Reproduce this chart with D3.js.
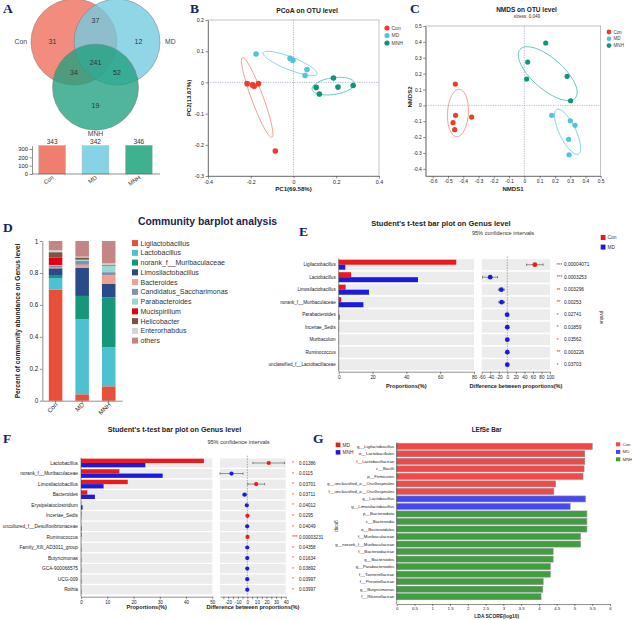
<!DOCTYPE html>
<html><head><meta charset="utf-8">
<script src="https://cdn.jsdelivr.net/npm/d3@7"></script>
<style>body{margin:0;background:#fff}svg{display:block}</style>
</head><body><svg id="c" width="632" height="620"></svg>
<script>
// ---------------- DATA ----------------
const groups = ["Con", "MD", "MNH"];
// Venn regions: Con only, Con∩MD, MD only, all three, Con∩MNH, MD∩MNH, MNH only
const vennRegionCounts = [31, 37, 12, 241, 34, 52, 19];
const otuTotals = [343, 342, 346];
const otuTicks = [0, 100, 200, 300];

// PCoA points [PC1, PC2]
const pcoaCon = [[-0.217, -0.004], [-0.192, -0.008], [-0.184, -0.012], [-0.164, -0.004], [-0.085, -0.22]];
const pcoaMD = [[-0.175, 0.091], [-0.016, 0.077], [-0.003, 0.071], [0.063, 0.041], [0.054, 0.022]];
const pcoaMNH = [[0.106, -0.016], [0.121, -0.037], [0.187, 0.014], [0.208, -0.015], [0.279, -0.01]];
// ellipses: [centerX, centerY, majorEndX, majorEndY, minor/major ratio]
const pcoaEllipses = [[-0.170, -0.048, -0.239, 0.080, 0.137], [-0.016, 0.061, 0.110, 0.027, 0.22], [0.186, -0.012, 0.285, -0.002, 0.39]];
const pcoaXTicks = [-0.4, -0.2, 0, 0.2, 0.4];
const pcoaYTicks = [-0.3, -0.2, -0.1, 0, 0.1, 0.2];

// NMDS points
const nmdsCon = [[-0.452, 0.134], [-0.45, -0.063], [-0.467, -0.109], [-0.456, -0.153], [-0.345, -0.074]];
const nmdsMD = [[0.179, -0.063], [0.301, -0.097], [0.332, -0.126], [0.29, -0.214], [0.293, -0.311]];
const nmdsMNH = [[0.14, 0.393], [0.022, 0.273], [0.015, 0.166], [0.28, 0.183], [0.303, 0.029]];
const nmdsEllipses = [[-0.435, -0.048, -0.426, 0.101, 0.44], [0.283, -0.166, 0.212, -0.025, 0.33], [0.153, 0.2, -0.028, 0.353, 0.42]];
const nmdsXTicks = [-0.6, -0.5, -0.4, -0.3, -0.2, -0.1, 0, 0.1, 0.2, 0.3, 0.4, 0.5];
const nmdsYTicks = [-0.4, -0.3, -0.2, -0.1, 0, 0.1, 0.2, 0.3, 0.4, 0.5];

// Community barplot
const genera = ["Ligilactobacillus", "Lactobacillus", "norank_f__Muribaculaceae", "Limosilactobacillus", "Bacteroides",
  "Candidatus_Saccharimonas", "Parabacteroides", "Mucispirillum", "Helicobacter", "Enterorhabdus", "others"];
const abundCon = [0.695, 0.073, 0.019, 0.042, 0.004, 0.014, 0.003, 0.045, 0.035, 0.012, 0.058];
const abundMD = [0.04, 0.47, 0.146, 0.175, 0.02, 0.025, 0.006, 0.003, 0.012, 0.005, 0.098];
const abundMNH = [0.09, 0.245, 0.313, 0.085, 0.052, 0.02, 0.04, 0.002, 0.005, 0.008, 0.14];
const abundTicks = [0, 0.2, 0.4, 0.6, 0.8, 1];

// t-test Con vs MD
const eGenera = ["Ligilactobacillus", "Lactobacillus", "Limosilactobacillus", "norank_f__Muribaculaceae", "Parabacteroides",
  "Incertae_Sedis", "Muribaculum", "Ruminococcus", "unclassified_f__Lactobacillaceae"];
const eCon = [69.5, 7.3, 4.1, 1.5, 0.1, 0.02, 0.02, 0.01, 0.02];
const eMD = [3.9, 46.9, 17.9, 14.6, 0.5, 0.1, 0.08, 0.05, 0.1];
const eDiff = [64.5, -40, -14, -13.3, -0.4, -0.08, -0.06, -0.04, -0.08];
const eLow = [45, -58, -21, -20, -0.8, -0.15, -0.1, -0.08, -0.15];
const eHigh = [84, -23, -7, -6.5, -0.05, -0.01, -0.02, -0.01, -0.02];
const eStars = ["***", "***", "**", "**", "*", "*", "*", "**", "*"];
const ePvals = ["0.00004071", "0.0003253", "0.003296", "0.00253", "0.02741", "0.01859", "0.03562", "0.003226", "0.03703"];
const ePropTicks = [0, 20, 40, 60, 80];
const eDiffTicks = [-60, -40, -20, 0, 20, 40, 60, 80, 100];

// t-test MD vs MNH
const fGenera = ["Lactobacillus", "norank_f__Muribaculaceae", "Limosilactobacillus", "Bacteroides", "Erysipelatoclostridium",
  "Incertae_Sedis", "uncultured_f__Desulfovibrionaceae", "Ruminococcus", "Family_XIII_AD3011_group", "Butyricimonas",
  "GCA-900066575", "UCG-009", "Rothia"];
const fMD = [46.8, 14.6, 17.8, 2.4, 0.05, 0.15, 0.03, 0.2, 0.03, 0.02, 0.03, 0.02, 0.02];
const fMNH = [24.5, 31.1, 8.6, 5.3, 0.6, 0.05, 0.2, 0.0, 0.1, 0.1, 0.1, 0.1, 0.1];
const fDiff = [22.3, -16.5, 9.2, -2.9, -0.55, 0.1, -0.17, 0.2, -0.07, -0.08, -0.07, -0.08, -0.08];
const fLow = [5.8, -28.5, 0.5, -4.6, -1.0, 0.01, -0.3, 0.1, -0.13, -0.15, -0.13, -0.15, -0.15];
const fHigh = [38.8, -4.5, 18, -0.6, -0.1, 0.2, -0.03, 0.3, -0.01, -0.01, -0.01, -0.01, -0.01];
const fStars = ["*", "*", "*", "*", "*", "*", "*", "***", "*", "*", "*", "*", "*"];
const fPvals = ["0.01386", "0.0115", "0.03701", "0.03711", "0.04012", "0.0295", "0.04049", "0.00003231", "0.04358", "0.01634", "0.03892", "0.03997", "0.03997"];
const fPropTicks = [0, 10, 20, 30, 40, 50];
const fDiffTicks = [-25, -20, -15, -10, -5, 0, 5, 10, 15, 20, 25, 30, 35, 40];
const fDiffTickLabels = [-20, -10, 0, 10, 20, 30, 40];

// LEfSe
const gTaxa = ["g__Ligilactobacillus", "o__Lactobacillales", "f__Lactobacillaceae", "c__Bacilli", "p__Firmicutes",
  "g__unclassified_o__Oscillospirales", "f__unclassified_o__Oscillospirales", "g__Lactobacillus", "g__Limosilactobacillus",
  "p__Bacteroidota", "c__Bacteroidia", "o__Bacteroidales", "f__Muribaculaceae", "g__norank_f__Muribaculaceae",
  "f__Bacteroidaceae", "g__Bacteroides", "g__Parabacteroides", "f__Tannerellaceae", "f__Prevotellaceae",
  "g__Butyricimonas", "f__Rikenellaceae"];
const gScores = [5.5, 5.29, 5.29, 5.27, 5.24, 4.47, 4.42, 5.31, 4.88, 5.35, 5.35, 5.35, 5.17, 5.17, 4.4, 4.4, 4.32, 4.32, 4.12, 4.11, 4.06];
const gGroup = ["Con", "Con", "Con", "Con", "Con", "Con", "Con", "MD", "MD", "MNH", "MNH", "MNH", "MNH", "MNH", "MNH", "MNH", "MNH", "MNH", "MNH", "MNH", "MNH"];
const gTicks = [0, 0.5, 1, 1.5, 2, 2.5, 3, 3.5, 4, 4.5, 5, 5.5, 6];

// ---------------- DRAWING ----------------
const FONT = "'Liberation Sans', Arial, Helvetica, sans-serif";
const svg = d3.select("#c").attr("font-family", FONT);
svg.append("rect").attr("width", 632).attr("height", 620).attr("fill", "#fff");

function label(p, x, y, s, size, o = {}) {
  const t = p.append("text").attr("x", x).attr("y", y).text(s)
    .attr("font-size", size).attr("fill", o.fill || "#222")
    .attr("text-anchor", o.anchor || "start");
  if (o.bold) t.attr("font-weight", "bold");
  if (o.family) t.attr("font-family", o.family);
  if (o.rotate) t.attr("transform", `rotate(${o.rotate},${x},${y})`);
  if (o.dy) t.attr("dy", o.dy);
  return t;
}
function letter(x, y, s) {
  label(svg, x, y, s, 13.5, { bold: true, family: "'Liberation Serif','Times New Roman',serif", fill: "#15206b" });
}
function styleAxis(g, fs) {
  g.attr("font-family", FONT);
  g.select(".domain").attr("stroke", "#444").attr("stroke-width", 0.6);
  g.selectAll(".tick line").attr("stroke", "#444").attr("stroke-width", 0.6);
  g.selectAll(".tick text").attr("font-size", fs).attr("fill", "#222");
}
const num = d => String(Math.round(d * 100) / 100);
function ellipsePath(xs, ys, e) {
  const [cx, cy, ex, ey, ratio] = e;
  const x0 = xs(cx), y0 = ys(cy), dx = xs(ex) - x0, dy = ys(ey) - y0;
  const a = Math.hypot(dx, dy), b = a * ratio, th = Math.atan2(dy, dx);
  const pts = d3.range(0, 73).map(i => {
    const t = i / 72 * 2 * Math.PI, u = a * Math.cos(t), v = b * Math.sin(t);
    return [x0 + u * Math.cos(th) - v * Math.sin(th), y0 + u * Math.sin(th) + v * Math.cos(th)];
  });
  return d3.line()(pts) + "Z";
}

// ===== Panel A =====
letter(3, 12.5, "A");
{
  const R = 43;
  const vx = d3.scaleLinear().domain([-1, 1]).range([95.5 - R, 95.5 + R]);
  const vy = d3.scaleLinear().domain([-1, 1]).range([42 - R, 42 + R]);
  const centers = [[-0.5, 0], [0.5, 0], [0, 1.05]];
  const vColors = ["#ee6b5b", "#72cbe0", "#1fa07e"];
  const A = svg.append("g");
  A.selectAll("circle").data(groups).join("circle")
    .attr("cx", (d, i) => vx(centers[i][0])).attr("cy", (d, i) => vy(centers[i][1]))
    .attr("r", R).attr("fill", (d, i) => vColors[i]).attr("fill-opacity", 0.78)
    .attr("stroke", "#777").attr("stroke-width", 0.5);
  const regionPos = [[-1.0, 0], [0, -0.49], [1.0, 0], [0, 0.47], [-0.5, 0.72], [0.5, 0.72], [0, 1.47]];
  A.selectAll("text.rc").data(vennRegionCounts).join("text").attr("class", "rc")
    .attr("x", (d, i) => vx(regionPos[i][0])).attr("y", (d, i) => vy(regionPos[i][1]))
    .attr("dy", "0.35em").attr("text-anchor", "middle").attr("font-size", 7).attr("fill", "#333").text(d => d);
  label(A, vx(-1.5) - 4, vy(0), "Con", 6.8, { anchor: "end", dy: "0.35em", fill: "#444" });
  label(A, vx(1.5) + 5, vy(0), "MD", 6.8, { dy: "0.35em", fill: "#444" });
  label(A, vx(0), vy(2.05) + 6, "MNH", 6.8, { anchor: "middle", fill: "#444" });

  const ax = d3.scaleBand().domain(groups).range([30.5, 160.5]).paddingInner(0.38).paddingOuter(0.19);
  const ay = d3.scaleLinear().domain([0, 340]).range([174, 145.7]);
  const bColors = ["#ef7e6e", "#86d3e6", "#3eb191"];
  A.selectAll("rect.ob").data(otuTotals).join("rect").attr("class", "ob")
    .attr("x", (d, i) => ax(groups[i])).attr("width", ax.bandwidth())
    .attr("y", d => ay(d)).attr("height", d => ay(0) - ay(d))
    .attr("fill", (d, i) => bColors[i]).attr("stroke", "#bbb").attr("stroke-width", 0.5);
  A.selectAll("text.ov").data(otuTotals).join("text").attr("class", "ov")
    .attr("x", (d, i) => ax(groups[i]) + ax.bandwidth() / 2).attr("y", d => ay(d) - 1.2)
    .attr("text-anchor", "middle").attr("font-size", 6.5).attr("fill", "#333").text(d => d);
  const gy = A.append("g").attr("transform", `translate(32,0)`)
    .call(d3.axisLeft(ay).tickValues(otuTicks).tickSize(2.5).tickSizeOuter(0).tickPadding(1.5));
  styleAxis(gy, 5.8);
  A.append("line").attr("x1", 32).attr("x2", 160).attr("y1", ay(0)).attr("y2", ay(0)).attr("stroke", "#444").attr("stroke-width", 0.6);
  groups.forEach(gname => {
    const x = ax(gname) + ax.bandwidth() / 2 + 2, y = 178.5;
    label(A, x, y, gname, 5.8, { anchor: "end", rotate: -35, fill: "#333" });
  });
}

// ===== scatter helper for B and C =====
const pColors = ["#ec3d2b", "#4fc4da", "#129479"];
function scatterPanel(cfg) {
  const g = svg.append("g");
  const xs = cfg.xs, ys = cfg.ys;
  const [x0, x1] = xs.range(), [y0, y1] = ys.range();
  g.append("rect").attr("x", x0).attr("y", y1).attr("width", x1 - x0).attr("height", y0 - y1)
    .attr("fill", "none").attr("stroke", "#999").attr("stroke-width", 0.6);
  g.append("line").attr("x1", xs(0)).attr("x2", xs(0)).attr("y1", y1).attr("y2", y0)
    .attr("stroke", "#8a8ab8").attr("stroke-width", 0.6).attr("stroke-dasharray", "1.2,1.2");
  g.append("line").attr("x1", x0).attr("x2", x1).attr("y1", ys(0)).attr("y2", ys(0))
    .attr("stroke", "#8a8ab8").attr("stroke-width", 0.6).attr("stroke-dasharray", "1.2,1.2");
  const gx = g.append("g").attr("transform", `translate(0,${y0})`)
    .call(d3.axisBottom(xs).tickValues(cfg.xt).tickFormat(num).tickSize(2.5).tickSizeOuter(0).tickPadding(1.5));
  styleAxis(gx, cfg.fs);
  const gy = g.append("g").attr("transform", `translate(${x0},0)`)
    .call(d3.axisLeft(ys).tickValues(cfg.yt).tickFormat(num).tickSize(2.5).tickSizeOuter(0).tickPadding(1.5));
  styleAxis(gy, cfg.fs);
  g.selectAll("path.el").data(cfg.ell).join("path").attr("class", "el")
    .attr("d", e => ellipsePath(xs, ys, e)).attr("fill", "none")
    .attr("stroke", (d, i) => cfg.ellColors[i]).attr("stroke-width", 0.8);
  cfg.pts.forEach((arr, k) => {
    g.selectAll(null).data(arr).join("circle")
      .attr("cx", d => xs(d[0])).attr("cy", d => ys(d[1])).attr("r", cfg.pr).attr("fill", pColors[k]);
  });
  groups.forEach((gn, i) => {
    g.append("circle").attr("cx", cfg.legX).attr("cy", cfg.legY[i]).attr("r", cfg.legR).attr("fill", pColors[i]);
    label(g, cfg.legX + 4.5, cfg.legY[i], gn, cfg.legFs, { dy: "0.35em", fill: "#444" });
  });
  return g;
}

// ===== Panel B =====
letter(190, 12.5, "B");
{
  const xs = d3.scaleLinear().domain([-0.4, 0.4]).range([208, 379]);
  const ys = d3.scaleLinear().domain([-0.3, 0.2]).range([176, 20]);
  const g = scatterPanel({
    xs, ys, xt: pcoaXTicks, yt: pcoaYTicks, fs: 5.3, ell: pcoaEllipses,
    ellColors: ["#f0857a", "#63cade", "#3db8ac"],
    pts: [pcoaCon, pcoaMD, pcoaMNH], pr: 2.8, legX: 387, legY: [28, 35.5, 43], legR: 2.6, legFs: 5
  });
  label(g, 307, 12.5, "PCoA on OTU level", 6.8, { bold: true, anchor: "middle", fill: "#222" });
  label(g, 293.5, 190.5, "PC1(69.58%)", 6.1, { bold: true, anchor: "middle" });
  label(g, 190.5, 98, "PC2(13.67%)", 6.1, { bold: true, anchor: "middle", rotate: -90 });
}

// ===== Panel C =====
letter(410, 12.5, "C");
{
  const xs = d3.scaleLinear().domain([-0.646, 0.5]).range([425.7, 600.7]);
  const ys = d3.scaleLinear().domain([-0.445, 0.5]).range([176, 26]);
  const g = scatterPanel({
    xs, ys, xt: nmdsXTicks, yt: nmdsYTicks, fs: 4.9, ell: nmdsEllipses,
    ellColors: ["#f0857a", "#63cade", "#3db8b0"],
    pts: [nmdsCon, nmdsMD, nmdsMNH], pr: 2.6, legX: 609, legY: [32, 38.8, 45.6], legR: 2.4, legFs: 4.6
  });
  label(g, 526.5, 11.5, "NMDS on OTU level", 6.5, { bold: true, anchor: "middle" });
  label(g, 527, 17.8, "stress: 0.049", 4.6, { anchor: "middle", fill: "#333" });
  label(g, 513, 190.5, "NMDS1", 6, { bold: true, anchor: "middle" });
  label(g, 411.5, 97, "NMDS2", 6, { bold: true, anchor: "middle", rotate: -90 });
}

// ===== Panel D =====
letter(3, 232, "D");
{
  const g = svg.append("g");
  const dColors = ["#e8503a", "#4ec1d0", "#17977a", "#2b4a8c", "#f1a08e", "#8491ab", "#93dad3", "#e60012", "#7b5444", "#d4d4d4", "#c48585"];
  const x = d3.scaleBand().domain(groups).range([42.3, 122]).paddingInner(0.49).paddingOuter(0.245);
  const y = d3.scaleLinear().domain([0, 1]).range([400.7, 241]);
  const rows = groups.map((gn, i) => {
    const vals = [abundCon, abundMD, abundMNH][i];
    const o = { group: gn };
    genera.forEach((ge, j) => o[ge] = vals[j]);
    return o;
  });
  const stacked = d3.stack().keys(genera)(rows);
  stacked.forEach((layer, j) => {
    g.selectAll(null).data(layer).join("rect")
      .attr("x", d => x(d.data.group)).attr("width", x.bandwidth())
      .attr("y", d => y(d[1])).attr("height", d => Math.max(0, y(d[0]) - y(d[1])))
      .attr("fill", dColors[j]);
  });
  const gy = g.append("g").attr("transform", "translate(42.3,0)")
    .call(d3.axisLeft(y).tickValues(abundTicks).tickFormat(d => String(d)).tickSize(2.5).tickSizeOuter(0).tickPadding(1.5));
  styleAxis(gy, 6.3);
  const gx = g.append("g").attr("transform", "translate(0,400.7)")
    .call(d3.axisBottom(x).tickSize(2.5).tickSizeOuter(0).tickFormat(""));
  styleAxis(gx, 6);
  groups.forEach(gn => {
    const xx = x(gn) + x.bandwidth() / 2 + 2.5, yy = 405;
    label(g, xx, yy, gn, 6.3, { anchor: "end", rotate: -45, fill: "#333" });
  });
  label(g, 20, 321, "Percent of community abundance on Genus level", 6.6, { bold: true, anchor: "middle", rotate: -90 });
  label(g, 207.5, 224.5, "Community barplot analysis", 10.4, { bold: true, anchor: "middle", fill: "#1b2350" });
  const ly = d3.scaleBand().domain(genera).range([238.2, 345.5]);
  genera.forEach((ge, j) => {
    const yy = ly(ge) + ly.bandwidth() / 2;
    g.append("rect").attr("x", 132).attr("y", yy - 3).attr("width", 6).attr("height", 6).attr("fill", dColors[j]);
    label(g, 140.5, yy, ge, 7, { dy: "0.35em", fill: "#333" });
  });
}

// ===== t-test helper (E and F) =====
const redC = "#f01818", blueC = "#1a1ae6";
function ttestPanel(cfg) {
  const g = svg.append("g");
  const y = d3.scaleBand().domain(cfg.names).range(cfg.yRange);
  const step = y.step(), bandH = step - cfg.gap;
  const xp = d3.scaleLinear().domain(cfg.propDomain).range(cfg.propRange);
  const xd = d3.scaleLinear().domain(cfg.diffDomain).range(cfg.diffRange);
  const yc = n => y(n) + step / 2;
  g.selectAll("rect.bl").data(cfg.names).join("rect").attr("class", "bl")
    .attr("x", cfg.propRange[0]).attr("width", cfg.propRange[1] - cfg.propRange[0])
    .attr("y", n => yc(n) - bandH / 2).attr("height", bandH).attr("fill", "#ececec");
  g.selectAll("rect.br").data(cfg.names).join("rect").attr("class", "br")
    .attr("x", cfg.diffRange[0]).attr("width", cfg.diffRange[1] - cfg.diffRange[0])
    .attr("y", n => yc(n) - bandH / 2).attr("height", bandH).attr("fill", "#ececec");
  g.selectAll("rect.b1").data(cfg.a).join("rect").attr("class", "b1")
    .attr("x", xp(0)).attr("width", d => xp(d) - xp(0))
    .attr("y", (d, i) => yc(cfg.names[i]) - cfg.barH).attr("height", cfg.barH).attr("fill", redC);
  g.selectAll("rect.b2").data(cfg.b).join("rect").attr("class", "b2")
    .attr("x", xp(0)).attr("width", d => xp(d) - xp(0))
    .attr("y", (d, i) => yc(cfg.names[i])).attr("height", cfg.barH).attr("fill", blueC);
  g.append("line").attr("x1", xp(0)).attr("x2", xp(0)).attr("y1", cfg.yRange[0]).attr("y2", cfg.axisY)
    .attr("stroke", "#444").attr("stroke-width", 0.6);
  const gx1 = g.append("g").attr("transform", `translate(0,${cfg.axisY})`)
    .call(d3.axisBottom(xp).tickValues(cfg.propTicks).tickSize(2.5).tickSizeOuter(0).tickPadding(1.5));
  styleAxis(gx1, cfg.tickFs);
  const lab = cfg.diffLabels;
  const gx2 = g.append("g").attr("transform", `translate(0,${cfg.axisY})`)
    .call(d3.axisBottom(xd).tickValues(cfg.diffTicks).tickSize(2.5).tickSizeOuter(0).tickPadding(1.5)
      .tickFormat(d => (!lab || lab.includes(d)) ? String(d) : ""));
  styleAxis(gx2, cfg.tickFs);
  g.append("line").attr("x1", xd(0)).attr("x2", xd(0)).attr("y1", cfg.yRange[0] - 2).attr("y2", cfg.axisY)
    .attr("stroke", "#777").attr("stroke-width", 0.6).attr("stroke-dasharray", "1.5,1.2");
  g.selectAll("text.nm").data(cfg.names).join("text").attr("class", "nm")
    .attr("x", xp(0) - 3).attr("y", n => yc(n)).attr("dy", "0.35em").attr("text-anchor", "end")
    .attr("font-size", cfg.nameFs).attr("fill", "#222").text(n => n);
  cfg.names.forEach((n, i) => {
    const cy = yc(n);
    g.append("line").attr("x1", xd(cfg.lo[i])).attr("x2", xd(cfg.hi[i])).attr("y1", cy).attr("y2", cy)
      .attr("stroke", "#333").attr("stroke-width", 0.5);
    [cfg.lo[i], cfg.hi[i]].forEach(v => g.append("line").attr("x1", xd(v)).attr("x2", xd(v))
      .attr("y1", cy - 1.2).attr("y2", cy + 1.2).attr("stroke", "#333").attr("stroke-width", 0.5));
    g.append("circle").attr("cx", xd(cfg.diff[i])).attr("cy", cy).attr("r", cfg.pr)
      .attr("fill", cfg.diff[i] > 0 ? redC : blueC);
    label(g, cfg.starX, cy + 2.2, cfg.stars[i], cfg.pFs, { fill: "#e52222" });
    label(g, cfg.pX, cy, cfg.pvals[i], cfg.pFs, { dy: "0.35em", fill: "#222" });
  });
  return g;
}

// ===== Panel E =====
letter(299, 236, "E");
{
  const g = ttestPanel({
    names: eGenera, a: eCon, b: eMD, diff: eDiff, lo: eLow, hi: eHigh, stars: eStars, pvals: ePvals,
    yRange: [258.45, 370.95], gap: 1.6, barH: 5,
    propDomain: [0, 80], propRange: [338.7, 474], propTicks: ePropTicks,
    diffDomain: [-60, 100], diffRange: [481.7, 550], diffTicks: eDiffTicks,
    axisY: 371.7, tickFs: 4.7, nameFs: 4.6, pr: 2.4, starX: 556.7, pX: 564, pFs: 4.8
  });
  label(g, 441, 225.5, "Student's t-test bar plot on Genus level", 7.5, { bold: true, anchor: "middle" });
  label(g, 503, 235, "95% confidence intervals", 5.6, { anchor: "middle", fill: "#333" });
  label(g, 406.3, 388, "Proportions(%)", 5.6, { bold: true, anchor: "middle" });
  label(g, 516, 388, "Difference between proportions(%)", 5.6, { bold: true, anchor: "middle" });
  label(g, 600, 317.5, "pvalue", 4.6, { anchor: "middle", rotate: 90, fill: "#333" });
  g.append("rect").attr("x", 600.7).attr("y", 235).attr("width", 4.8).attr("height", 5).attr("fill", redC);
  g.append("rect").attr("x", 600.7).attr("y", 244.6).attr("width", 4.8).attr("height", 5).attr("fill", blueC);
  label(g, 607.5, 237.5, "Con", 4.8, { dy: "0.35em", fill: "#333" });
  label(g, 607.5, 247.1, "MD", 4.8, { dy: "0.35em", fill: "#333" });
}

// ===== Panel F =====
letter(3, 443, "F");
{
  const g = ttestPanel({
    names: fGenera, a: fMD, b: fMNH, diff: fDiff, lo: fLow, hi: fHigh, stars: fStars, pvals: fPvals,
    yRange: [457.72, 595.0], gap: 1.3, barH: 4.3,
    propDomain: [0, 50], propRange: [81, 212.3], propTicks: fPropTicks,
    diffDomain: [-28.5, 40], diffRange: [220, 285.7], diffTicks: fDiffTicks, diffLabels: fDiffTickLabels,
    axisY: 596.7, tickFs: 4.6, nameFs: 4.8, pr: 2.1, starX: 292.3, pX: 299, pFs: 4.6
  });
  label(g, 174.5, 431.5, "Student's t-test bar plot on Genus level", 7.2, { bold: true, anchor: "middle" });
  label(g, 238.5, 443.5, "95% confidence intervals", 5.6, { anchor: "middle", fill: "#333" });
  label(g, 146.7, 608.5, "Proportions(%)", 5.6, { bold: true, anchor: "middle" });
  label(g, 253, 608.5, "Difference between proportions(%)", 5.6, { bold: true, anchor: "middle" });
  g.append("rect").attr("x", 335.7).attr("y", 442.6).attr("width", 4.7).attr("height", 4.5).attr("fill", redC);
  g.append("rect").attr("x", 335.7).attr("y", 450.1).attr("width", 4.7).attr("height", 4.5).attr("fill", blueC);
  label(g, 342.5, 444.9, "MD", 4.8, { dy: "0.35em", fill: "#333" });
  label(g, 342.5, 452.4, "MNH", 4.8, { dy: "0.35em", fill: "#333" });
}

// ===== Panel G =====
letter(313, 443, "G");
{
  const g = svg.append("g");
  const gColor = { Con: "#f24848", MD: "#4848f0", MNH: "#3f9f3f" };
  const y = d3.scaleBand().domain(gTaxa).range([442.54, 600.46]).paddingInner(0.2).paddingOuter(0.1);
  const x = d3.scaleLinear().domain([0, 6]).range([396.7, 610]);
  g.selectAll("rect.lb").data(gScores).join("rect").attr("class", "lb")
    .attr("x", x(0)).attr("width", d => x(d) - x(0))
    .attr("y", (d, i) => y(gTaxa[i])).attr("height", y.bandwidth())
    .attr("fill", (d, i) => gColor[gGroup[i]]).attr("stroke", "#8a8a8a").attr("stroke-width", 0.6);
  g.selectAll("text.tx").data(gTaxa).join("text").attr("class", "tx")
    .attr("x", x(0) - 2.5).attr("y", n => y(n) + y.bandwidth() / 2).attr("dy", "0.35em")
    .attr("text-anchor", "end").attr("font-size", 4.3).attr("fill", "#222").text(n => n);
  g.append("line").attr("x1", x(0)).attr("x2", x(0)).attr("y1", 442.5).attr("y2", 604)
    .attr("stroke", "#444").attr("stroke-width", 0.6);
  const gx = g.append("g").attr("transform", "translate(0,604)")
    .call(d3.axisBottom(x).tickValues(gTicks).tickFormat(num).tickSize(2).tickSizeOuter(0).tickPadding(1.2));
  styleAxis(gx, 4.4);
  label(g, 486.7, 432, "LEfSe Bar", 6.3, { bold: true, anchor: "middle" });
  label(g, 496.7, 617.5, "LDA SCORE(log10)", 4.9, { bold: true, anchor: "middle" });
  label(g, 335, 526, "group", 4.6, { anchor: "middle", rotate: 90, fill: "#333" });
  const ly = [444.3, 451.9, 459.3];
  groups.forEach((gn, i) => {
    g.append("rect").attr("x", 616).attr("y", ly[i] - 2).attr("width", 4.3).attr("height", 4).attr("fill", gColor[gn]);
    label(g, 622.5, ly[i], gn, 4.4, { dy: "0.35em", fill: "#333" });
  });
}
</script>
</body></html>
